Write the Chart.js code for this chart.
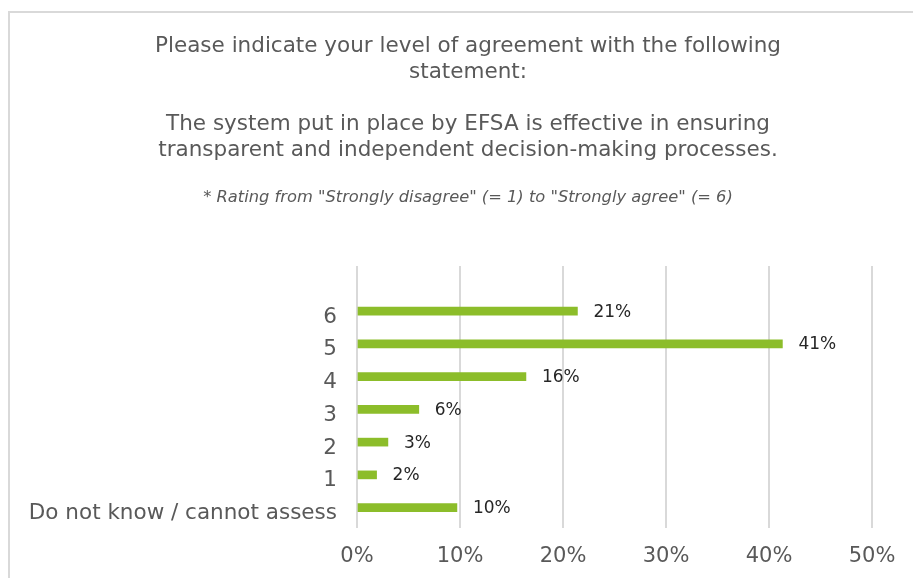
<!DOCTYPE html>
<html lang="en">

<head>
    <meta charset="UTF-8">
    <title>EFSA - level of agreement</title>
    <script src="https://cdn.jsdelivr.net/npm/chart.js"></script>
    <style>
        html,
        body {
            margin: 0;
            background: #ffffff;
            overflow: hidden;
        }

        .moldura {
            position: absolute;
            left: 8px;
            top: 11px;
            border-left: 2px solid #d9d9d9;
            border-top: 2px solid #d9d9d9;
        }

        .grafico-container {
            position: relative;
            width: 903px;
            height: 565px;
        }
    </style>
</head>

<body>
    <div class="moldura">
        <div class="grafico-container"><canvas id="graficoAcordo"></canvas></div>
    </div>

    <script>
        // categories, top to bottom (first one is the empty slot above "6")
        const categorias = ['', '6', '5', '4', '3', '2', '1', 'Do not know / cannot assess'];
        // share of answers, in %
        const respostas = [null, 21.4, 41.3, 16.4, 6.0, 3.0, 1.9, 9.7];
        // second (empty) series the original chart keeps room for
        const vazio = [null, null, null, null, null, null, null, null];
        const ticksX = [0, 10, 20, 30, 40, 50];

        const tituloLinhas = [
            'Please indicate your level of agreement with the following',
            'statement:',
            '',
            'The system put in place by EFSA is effective in ensuring',
            'transparent and independent decision-making processes.'
        ];
        const subtitulo = '* Rating from "Strongly disagree" (= 1) to "Strongly agree" (= 6)';

        const corTexto = '#595959';
        const fonte = 'DejaVu Sans';

        // rótulos de valor à direita das barras
        const rotulosBarras = {
            id: 'rotulosBarras',
            afterDatasetsDraw(chart) {
                const ctx = chart.ctx;
                const meta = chart.getDatasetMeta(0);
                ctx.save();
                ctx.font = '17px "' + fonte + '"';
                ctx.fillStyle = '#262626';
                ctx.textAlign = 'left';
                ctx.textBaseline = 'middle';
                meta.data.forEach((barra, i) => {
                    const v = respostas[i];
                    if (v === null) return;
                    ctx.fillText(Math.round(v) + '%', barra.x + 16, barra.y + 1);
                });
                ctx.restore();
            }
        };

        new Chart(document.getElementById('graficoAcordo'), {
            type: 'bar',
            data: {
                labels: categorias,
                datasets: [{
                    label: 'Respostas',
                    data: respostas,
                    backgroundColor: '#8cbd2a',
                    barThickness: 8
                }, {
                    label: '',
                    data: vazio,
                    backgroundColor: '#8cbd2a',
                    barThickness: 8
                }]
            },
            options: {
                indexAxis: 'y',
                responsive: true,
                maintainAspectRatio: false,
                animation: false,
                layout: { padding: { left: 13, right: 0, top: 0, bottom: 9 } },
                plugins: {
                    legend: { display: false },
                    tooltip: { enabled: false },
                    title: {
                        display: true,
                        text: tituloLinhas,
                        color: corTexto,
                        font: { family: fonte, size: 21.5, weight: 'normal', lineHeight: '26px' },
                        padding: { top: 20, bottom: 26 }
                    },
                    subtitle: {
                        display: true,
                        text: subtitulo,
                        color: corTexto,
                        font: { family: fonte, size: 16.3, style: 'italic', lineHeight: '18px' },
                        padding: { top: 0, bottom: 59 }
                    }
                },
                scales: {
                    x: {
                        min: ticksX[0],
                        max: ticksX[ticksX.length - 1],
                        afterBuildTicks: (escala) => {
                            escala.ticks = ticksX.map(v => ({ value: v }));
                        },
                        afterFit: (escala) => { escala.height = 41; },
                        grid: { color: '#d9d9d9', lineWidth: 2, drawTicks: false },
                        border: { display: false },
                        ticks: {
                            padding: 16,
                            color: corTexto,
                            font: { family: fonte, size: 21 },
                            callback: (v) => v + '%'
                        }
                    },
                    y: {
                        grid: { display: false, drawTicks: false },
                        border: { display: false },
                        afterFit: (escala) => { escala.width = 334; },
                        ticks: {
                            padding: 20,
                            labelOffset: 2,
                            color: corTexto,
                            font: { family: fonte, size: 21.5 },
                            autoSkip: false
                        }
                    },
                    // margem vazia à direita da área do gráfico
                    margemDireita: {
                        type: 'linear',
                        position: 'right',
                        display: true,
                        grid: { display: false, drawTicks: false },
                        border: { display: false },
                        ticks: { display: false },
                        afterFit: (escala) => { escala.width = 41; }
                    }
                }
            },
            plugins: [rotulosBarras]
        });
    </script>
</body>

</html>
